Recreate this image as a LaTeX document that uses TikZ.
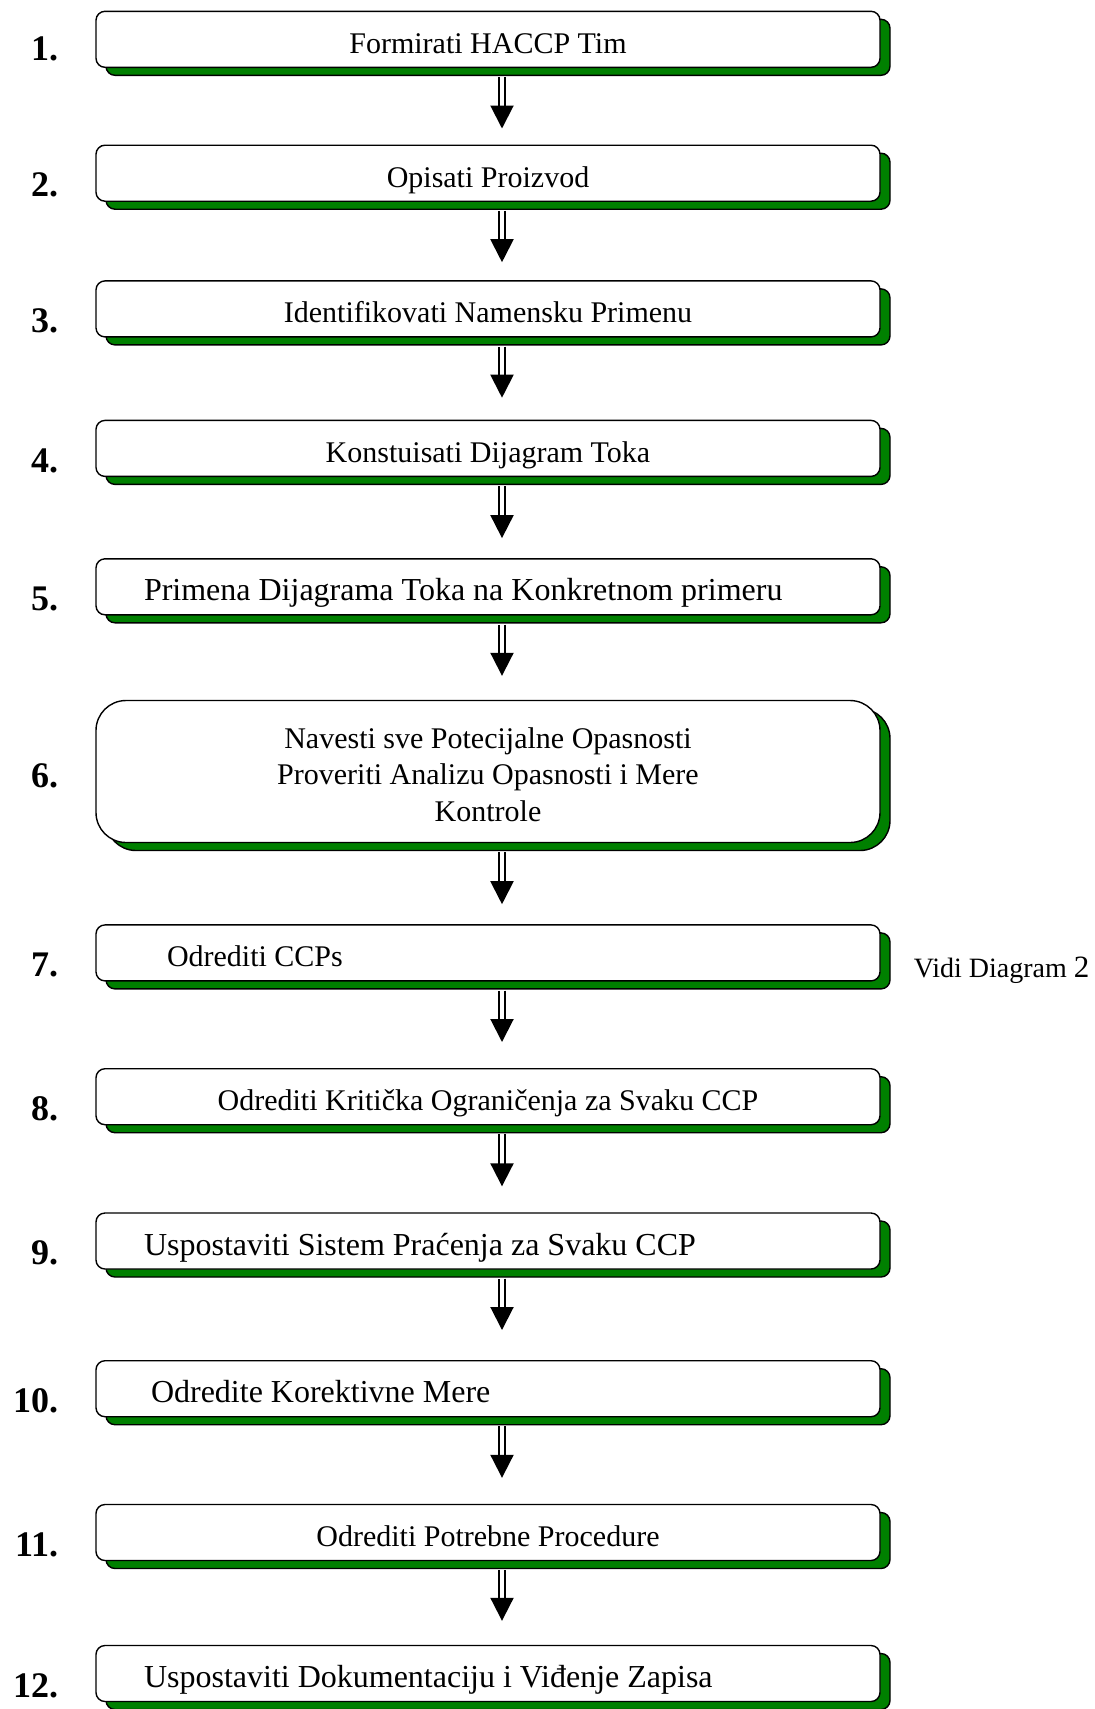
\documentclass[tikz,border=0pt]{standalone}
\usepackage{fontspec}
\setmainfont{Liberation Serif}
\usetikzlibrary{positioning,shadows,arrows.meta}
\definecolor{shadowgreen}{RGB}{0,128,0}
\setlength{\parindent}{0pt}
\tikzset{
    stepbox/.style  = {draw=black, line width=1.4pt, fill=white, rounded corners=9pt,
                       text width=784pt, minimum height=56pt, inner sep=0pt,
                       font=\fontsize{30}{36.5}\selectfont,
                       general shadow={fill=shadowgreen, draw=black, line width=1.4pt,
                                       shadow xshift=10pt, shadow yshift=-8pt}},
    oneline/.style  = {text height=28pt, text depth=0pt},
    widetext/.style = {font=\fontsize{32}{36.5}\selectfont},
    numlabel/.style = {inner sep=0pt, font=\fontsize{36}{36}\selectfont\bfseries},
    flowarrow/.style = {draw=black, double=white, double distance=4pt, line width=2pt,
                        -{Triangle[width=23pt,length=23pt]}, shorten <=9pt},
}
\begin{document}
\begin{tikzpicture}[x=1pt, y=-1pt]
    \useasboundingbox (0,0) rectangle (1095,1709);
    % the twelve steps
    \node[stepbox, oneline, align=flush center] (b1) at (488,39.3) {Formirati HACCP Tim};
    \node[stepbox, oneline, align=flush center] (b2) at (488,173.2) {Opisati Proizvod};
    \node[stepbox, oneline, align=flush center] (b3) at (488,308.9) {Identifikovati Namensku Primenu};
    \node[stepbox, oneline, align=flush center] (b4) at (488,448.4) {Konstuisati Dijagram Toka};
    \node[stepbox, oneline, widetext, align=flush left] (b5) at (488,586.8) {\hspace*{48pt}Primena Dijagrama Toka na Konkretnom primeru};
    \node[stepbox, align=flush center, rounded corners=30pt, minimum height=142pt] (b6) at (488,771.5)
        {\rule{0pt}{27pt}Navesti sve Potecijalne Opasnosti\\Proveriti Analizu Opasnosti i Mere\\Kontrole};
    \node[stepbox, oneline, align=flush left] (b7) at (488,952.9) {\hspace*{71pt}Odrediti CCPs};
    \node[stepbox, oneline, align=flush center] (b8) at (488,1096.7) {Odrediti Kritička Ograničenja za Svaku CCP};
    \node[stepbox, oneline, widetext, align=flush left] (b9) at (488,1241) {\hspace*{48pt}Uspostaviti Sistem Praćenja za Svaku CCP};
    \node[stepbox, oneline, widetext, align=flush left] (b10) at (488,1388.7) {\hspace*{55pt}Odredite Korektivne Mere};
    \node[stepbox, oneline, align=flush center] (b11) at (488,1532.5) {Odrediti Potrebne Procedure};
    \node[stepbox, oneline, widetext, align=flush left] (b12) at (488,1673.5) {\hspace*{48pt}Uspostaviti Dokumentaciju i Viđenje Zapisa};

    % numbers
    \node[numlabel, left=37pt of b1, yshift=-10pt] (n1) {1.};
    \node[numlabel, left=37pt of b2, yshift=-12pt] (n2) {2.};
    \node[numlabel, left=37pt of b3, yshift=-12pt] (n3) {3.};
    \node[numlabel, left=37pt of b4, yshift=-12pt] (n4) {4.};
    \node[numlabel, left=37pt of b5, yshift=-12pt] (n5) {5.};
    \node[numlabel, left=37pt of b6, yshift=-4pt] (n6) {6.};
    \node[numlabel, left=37pt of b7, yshift=-12pt] (n7) {7.};
    \node[numlabel, left=37pt of b8, yshift=-12pt] (n8) {8.};
    \node[numlabel, left=37pt of b9, yshift=-12pt] (n9) {9.};
    \node[numlabel, left=37pt of b10, yshift=-12pt] (n10) {10.};
    \node[numlabel, left=37pt of b11, yshift=-12pt] (n11) {11.};
    \node[numlabel, left=37pt of b12, yshift=-12pt] (n12) {12.};

    \node[inner sep=0pt, right=33pt of b7, yshift=-17pt, font=\fontsize{28}{28}\selectfont] (vidi)
        {Vidi Diagram {\fontsize{31}{31}\selectfont 2}};

    % arrows
    \draw[flowarrow, shorten >=16pt] ([xshift=14pt]b1.south) -- ([xshift=14pt]b2.north);
    \draw[flowarrow, shorten >=18pt] ([xshift=14pt]b2.south) -- ([xshift=14pt]b3.north);
    \draw[flowarrow, shorten >=22pt] ([xshift=14pt]b3.south) -- ([xshift=14pt]b4.north);
    \draw[flowarrow, shorten >=20pt] ([xshift=14pt]b4.south) -- ([xshift=14pt]b5.north);
    \draw[flowarrow, shorten >=24pt] ([xshift=14pt]b5.south) -- ([xshift=14pt]b6.north);
    \draw[flowarrow, shorten >=20pt] ([xshift=14pt]b6.south) -- ([xshift=14pt]b7.north);
    \draw[flowarrow, shorten >=26pt] ([xshift=14pt]b7.south) -- ([xshift=14pt]b8.north);
    \draw[flowarrow, shorten >=26pt] ([xshift=14pt]b8.south) -- ([xshift=14pt]b9.north);
    \draw[flowarrow, shorten >=30pt] ([xshift=14pt]b9.south) -- ([xshift=14pt]b10.north);
    \draw[flowarrow, shorten >=26pt] ([xshift=14pt]b10.south) -- ([xshift=14pt]b11.north);
    \draw[flowarrow, shorten >=24pt] ([xshift=14pt]b11.south) -- ([xshift=14pt]b12.north);
\end{tikzpicture}
\end{document}
